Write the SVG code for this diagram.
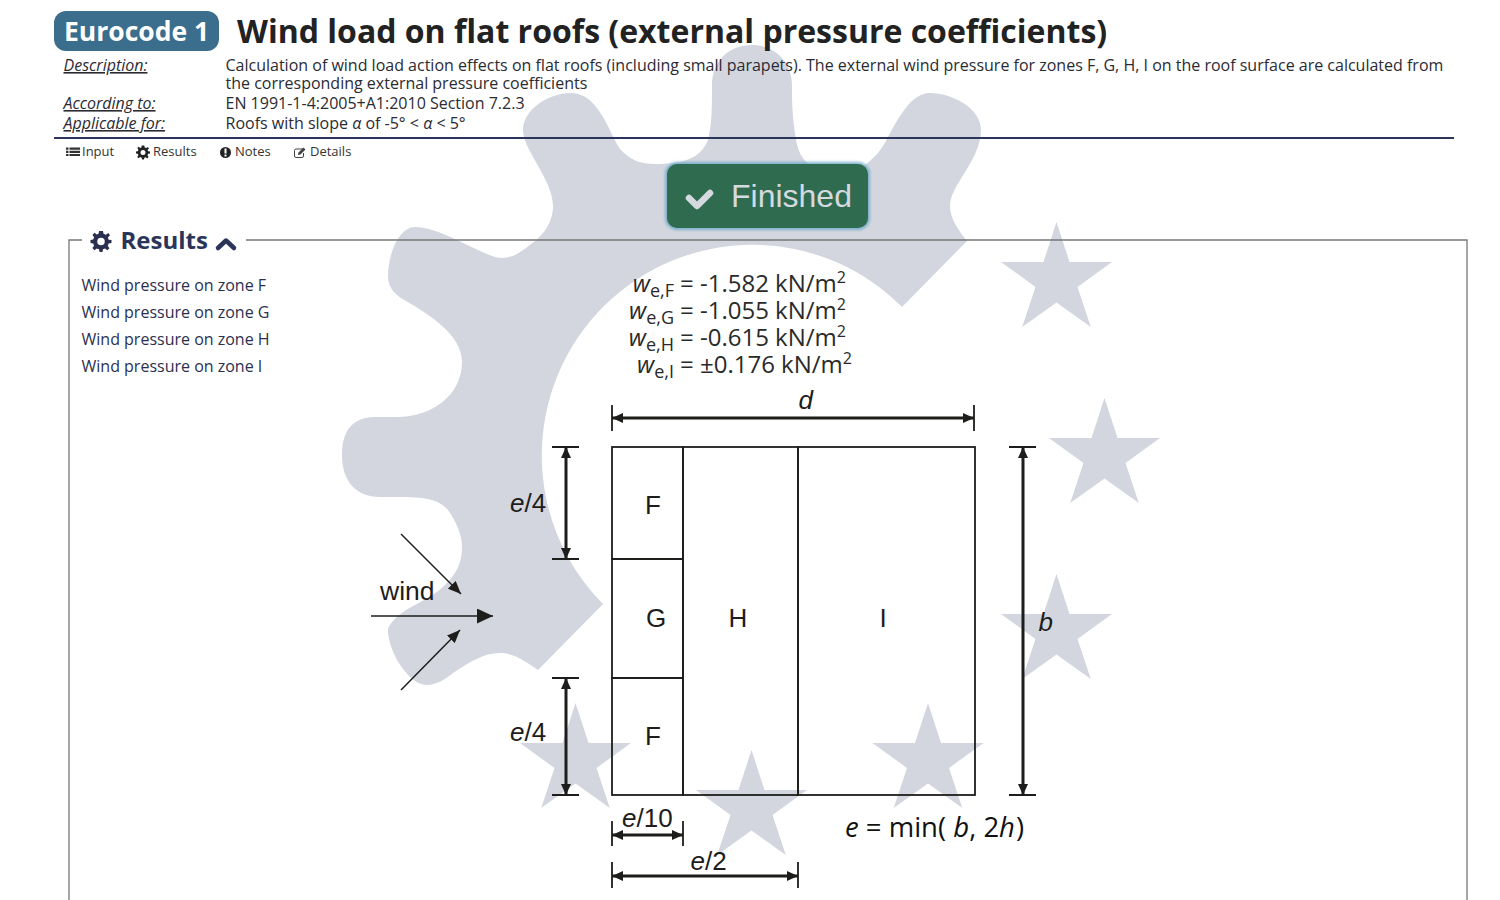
<svg xmlns="http://www.w3.org/2000/svg" width="1500" height="900" viewBox="0 0 1500 900">
<style>
text{font-family:"Open Sans","DejaVu Sans",sans-serif;fill:#2b2b33}
.lab{font-size:16px;font-style:italic;text-decoration:underline;fill:#2b2b33}
.desc{font-size:16px;fill:#2b2b33}
.nav{font-size:13px;fill:#333}
.row{font-size:16px;fill:#2b3050}
.eq{font-size:24px;fill:#2a2a2a}
.sym{font-size:24px;font-style:italic;fill:#2a2a2a;text-anchor:end}
.dia{font-family:"Liberation Sans",Arial,sans-serif;font-size:26px;fill:#1d1d1b}
.zone{font-family:"Liberation Sans",Arial,sans-serif;font-size:26px;fill:#1d1d1b;text-anchor:middle}
.thin{stroke:#1d1d1b;stroke-width:1.800;fill:none}
.dim{stroke:#1d1d1b;stroke-width:3;fill:none}
.wm{fill:#d3d6df}
.ico{fill:#2b3050}
</style>
<defs>
<filter id="glow" x="-10%" y="-20%" width="120%" height="140%"><feGaussianBlur stdDeviation="1.500"/></filter>
<polygon id="star" points="0,-58 13,-18 55.500,-18 21,7 34.300,47 0,22.500 -34.300,47 -21,7 -55.500,-18 -13,-18"/>
<marker id="ah" viewBox="0 0 10 10" refX="10" refY="5" markerWidth="11" markerHeight="10" markerUnits="userSpaceOnUse" orient="auto-start-reverse" preserveAspectRatio="none"><path d="M0,0L10,5L0,10Z" fill="#1d1d1b"/></marker>
<marker id="ahd" viewBox="0 0 10 10" refX="10" refY="5" markerWidth="13" markerHeight="11" markerUnits="userSpaceOnUse" orient="auto" preserveAspectRatio="none"><path d="M0,0L10,5L0,10Z" fill="#1d1d1b"/></marker>
<marker id="ahw" viewBox="0 0 10 10" refX="10" refY="5" markerWidth="16" markerHeight="15" markerUnits="userSpaceOnUse" orient="auto" preserveAspectRatio="none"><path d="M0,0L10,5L0,10Z" fill="#1d1d1b"/></marker>
<path id="cog" d="M-1.300,-7H1.300L1.700,-5.100 3.200,-4.500 4.900,-5.600 6,-4.100 4.600,-2.700 5.100,-1.200 7,-1V1L5.100,1.300 4.500,2.800 5.600,4.500 4.200,5.900 2.700,4.700 1.300,5.200 1,7H-1L-1.300,5.200 -2.800,4.600 -4.400,5.800 -5.800,4.400 -4.600,2.800 -5.200,1.300 -7,1V-1L-5.200,-1.300 -4.600,-2.800 -5.700,-4.400 -4.300,-5.800 -2.800,-4.600 -1.600,-5.100ZM0,-2.500A2.500,2.500 0 1 0 0,2.500A2.500,2.500 0 1 0 0,-2.500Z" fill-rule="evenodd"/>
</defs>
<rect width="1500" height="900" fill="#fff"/>
<g id="watermark">
<path class="wm" d="M902,307L967,241C958,230 950,218 950,206C950,185 981,160 981,130C981,108 952,93 930,93C912,93 900,115 888,137C878,158 860,173 839,173C818,173 800,165 796,140C792,115 792,100 792,85C792,62 775,45 752,45C728,45 712,62 712,85C712,105 712,125 708,140C700,160 680,164 656,164C640,164 630,160 620,149C608,130 598,93 571,93C548,93 523,110 523,130C523,150 553,180 553,206C553,225 540,238 531,244C520,253 512,258 502,258C485,258 442,227 415,227C398,227 388,256 388,276C388,288 395,295 406,301C430,315 462,335 462,362C462,395 432,417 397,417H375C355,417 342,428 342,455C342,480 355,497 380,497H393C420,497 440,497 450,513C460,528 462,540 462,547C462,565 455,575 445,585C430,600 410,605 397,617C392,622 388,626 388,630C388,640 392,650 397,660C405,673 415,685 427,685C435,685 445,680 453,673C470,662 483,653 500,653C515,653 528,663 538,670L603,604A210,210 0 0 1 902,307Z"/>
<use href="#star" x="1056.500" y="280" class="wm"/>
<use href="#star" x="1104.500" y="456" class="wm"/>
<use href="#star" x="1056.500" y="632" class="wm"/>
<use href="#star" x="928" y="761" class="wm"/>
<use href="#star" x="751.500" y="808" class="wm"/>
<use href="#star" x="575.500" y="761" class="wm"/>
</g>
<g id="header">
<rect x="54" y="11" width="165" height="40" rx="12" fill="#3a6e8c"/>
<text x="64" y="41" font-size="26.500" font-weight="700" style="fill:#fff">Eurocode 1</text>
<text x="237" y="43" font-size="32" font-weight="700" style="fill:#222">Wind load on flat roofs (external pressure coefficients)</text>
<text x="63.500" y="71" class="lab">Description:</text>
<text x="225.500" y="71" class="desc">Calculation of wind load action effects on flat roofs (including small parapets). The external wind pressure for zones F, G, H, I on the roof surface are calculated from</text>
<text x="225.500" y="89" class="desc">the corresponding external pressure coefficients</text>
<text x="63.500" y="109" class="lab">According to:</text>
<text x="225.500" y="109" class="desc">EN 1991-1-4:2005+A1:2010 Section 7.2.3</text>
<text x="63.500" y="129" class="lab">Applicable for:</text>
<text x="225.500" y="129" class="desc">Roofs with slope <tspan font-style="italic">α</tspan> of -5° &lt; <tspan font-style="italic">α</tspan> &lt; 5°</text>
<line x1="54" y1="138" x2="1454" y2="138" stroke="#2b3459" stroke-width="2"/>
</g>
<g id="nav">
<path fill="#333" d="M66,147.500h2.500v2.200h-2.500zM69.500,147.500h10.500v2.200h-10.500zM66,150.700h2.500v2.200h-2.500zM69.500,150.700h10.500v2.200h-10.500zM66,153.900h2.500v2.200h-2.500zM69.500,153.900h10.500v2.200h-10.500z"/>
<text x="82" y="156" class="nav">Input</text>
<use href="#cog" x="143" y="152.500" style="fill:#222"/>
<text x="153" y="156" class="nav">Results</text>
<circle cx="225.500" cy="152.500" r="5.500" fill="#222"/><rect x="224.500" y="148.500" width="2" height="5" fill="#fff"/><rect x="224.500" y="154.500" width="2" height="2" fill="#fff"/>
<text x="235" y="156" class="nav">Notes</text>
<path d="M303,149h-7a1.500,1.500 0 0 0 -1.500,1.500v5.500a1.500,1.500 0 0 0 1.500,1.500h6a1.500,1.500 0 0 0 1.500,-1.500v-3" fill="none" stroke="#444" stroke-width="1"/><path d="M298,155l0.500,-2.500 5,-5 2,2 -5,5z" fill="#444"/>
<text x="310" y="156" class="nav">Details</text>
</g>
<g id="status">
<rect x="667" y="164" width="201" height="64" rx="10" fill="none" stroke="#6fa9c8" stroke-width="3.500" filter="url(#glow)"/>
<rect x="667" y="164" width="201" height="64" rx="10" fill="#2f6b4f"/>
<path d="M689,198l8,8 13,-13" fill="none" stroke="#d5d9e0" stroke-width="6.500" stroke-linecap="round" stroke-linejoin="round"/>
<text x="731" y="207" font-size="32" style="font-family:'Liberation Sans',Arial,sans-serif;fill:#d5d9e0">Finished</text>
</g>
<g id="results-panel">
<path d="M82,240H69V900M246,240H1467V900" fill="none" stroke="#777" stroke-width="1.300"/>
<use href="#cog" transform="translate(101,241.500) scale(1.500)" class="ico"/>
<text x="120.500" y="249" font-size="24" font-weight="700" style="fill:#2b3459">Results</text>
<path d="M218,248l8,-7.500 8,7.500" fill="none" stroke="#2b3459" stroke-width="4.500" stroke-linecap="round" stroke-linejoin="round"/>
<text x="81.500" y="291" class="row">Wind pressure on zone F</text>
<text x="81.500" y="318" class="row">Wind pressure on zone G</text>
<text x="81.500" y="345" class="row">Wind pressure on zone H</text>
<text x="81.500" y="372" class="row">Wind pressure on zone I</text>
</g>
<g id="values">
<text x="674" y="292" class="sym">w<tspan font-size="18" font-style="normal" dy="5">e,F</tspan></text>
<text x="680" y="291.500" class="eq">= -1.582 kN/m<tspan font-size="16" dy="-9">2</tspan></text>
<text x="674" y="319" class="sym">w<tspan font-size="18" font-style="normal" dy="5">e,G</tspan></text>
<text x="680" y="318.500" class="eq">= -1.055 kN/m<tspan font-size="16" dy="-9">2</tspan></text>
<text x="674" y="346" class="sym">w<tspan font-size="18" font-style="normal" dy="5">e,H</tspan></text>
<text x="680" y="345.500" class="eq">= -0.615 kN/m<tspan font-size="16" dy="-9">2</tspan></text>
<text x="674" y="373" class="sym">w<tspan font-size="18" font-style="normal" dy="5">e,I</tspan></text>
<text x="680" y="372.500" class="eq">= ±0.176 kN/m<tspan font-size="16" dy="-9">2</tspan></text>
</g>
<g id="zone-F-top"><rect x="612" y="447" width="71" height="112" class="thin"/><text x="653" y="514" class="zone">F</text></g>
<g id="zone-G"><rect x="612" y="559" width="71" height="119" class="thin"/><text x="656" y="627" class="zone">G</text></g>
<g id="zone-F-bottom"><rect x="612" y="678" width="71" height="117" class="thin"/><text x="653" y="745" class="zone">F</text></g>
<g id="zone-H"><rect x="683" y="447" width="115" height="348" class="thin"/><text x="738" y="627" class="zone">H</text></g>
<g id="zone-I"><rect x="798" y="447" width="177" height="348" class="thin"/><text x="883" y="627" class="zone">I</text></g>
<g id="connectors">
<line x1="401" y1="534" x2="461" y2="594" stroke="#1d1d1b" stroke-width="1.500" marker-end="url(#ahd)"/>
<line x1="371" y1="616" x2="493" y2="616" stroke="#1d1d1b" stroke-width="1.500" marker-end="url(#ahw)"/>
<line x1="401" y1="690" x2="460" y2="630" stroke="#1d1d1b" stroke-width="1.500" marker-end="url(#ahd)"/>
<path class="thin" d="M552,447H579M552,559H579M552,678H579M552,795H579M612,405V431M974,405V431M1009,447H1036M1009,795H1036M612,821V846M683,821V846M612,862V888M798,862V888"/>
<line x1="566" y1="447" x2="566" y2="559" class="dim" marker-start="url(#ah)" marker-end="url(#ah)"/>
<line x1="566" y1="678" x2="566" y2="795" class="dim" marker-start="url(#ah)" marker-end="url(#ah)"/>
<line x1="612" y1="418" x2="974" y2="418" class="dim" marker-start="url(#ah)" marker-end="url(#ah)"/>
<line x1="1023" y1="447" x2="1023" y2="795" class="dim" marker-start="url(#ah)" marker-end="url(#ah)"/>
<line x1="612" y1="835" x2="683" y2="835" class="dim" marker-start="url(#ah)" marker-end="url(#ah)"/>
<line x1="612" y1="876" x2="798" y2="876" class="dim" marker-start="url(#ah)" marker-end="url(#ah)"/>
</g>
<g id="labels">
<text x="380" y="600" class="dia" style="font-size:26.500px">wind</text>
<text x="798.500" y="409" class="dia" font-style="italic">d</text>
<text x="510" y="512" class="dia"><tspan font-style="italic">e</tspan>/4</text>
<text x="510" y="741" class="dia"><tspan font-style="italic">e</tspan>/4</text>
<text x="1038.500" y="631" class="dia" font-style="italic">b</text>
<text x="622" y="827" class="dia"><tspan font-style="italic">e</tspan>/10</text>
<text x="690.500" y="870" class="dia"><tspan font-style="italic">e</tspan>/2</text>
<text x="845" y="837" font-size="27.500" style="fill:#111"><tspan font-style="italic">e</tspan> = min( <tspan font-style="italic">b</tspan>, 2<tspan font-style="italic">h</tspan><tspan dx="1">)</tspan></text>
</g>
</svg>
